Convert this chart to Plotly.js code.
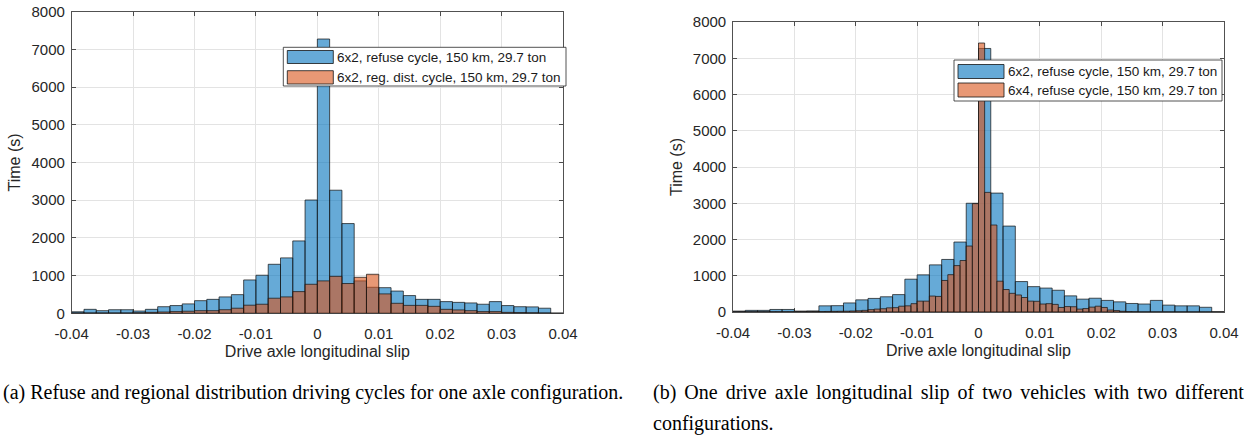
<!DOCTYPE html>
<html>
<head>
<meta charset="utf-8">
<script src="https://cdn.plot.ly/plotly-3.0.1.min.js"></script>
<style>
html,body{margin:0;padding:0;background:#fff;}
#chart{width:1250px;height:437px;}
</style>
</head>
<body>
<div id="chart"></div>
<script>
// ---------- data ----------
const binStart = -0.04;
const wideBin = 0.002;
const narrowBin = 0.001;

const xTickVals = [-0.04, -0.03, -0.02, -0.01, 0, 0.01, 0.02, 0.03, 0.04];
const xTickText = ['-0.04', '-0.03', '-0.02', '-0.01', '0', '0.01', '0.02', '0.03', '0.04'];
const yTickVals = [0, 1000, 2000, 3000, 4000, 5000, 6000, 7000, 8000];
const yTickText = ['0', '1000', '2000', '3000', '4000', '5000', '6000', '7000', '8000'];

const seriesNamesA = ['6x2, refuse cycle, 150 km, 29.7 ton', '6x2, reg. dist. cycle, 150 km, 29.7 ton'];
const seriesNamesB = ['6x2, refuse cycle, 150 km, 29.7 ton', '6x4, refuse cycle, 150 km, 29.7 ton'];

// (a) 0.002-wide bins from -0.040 to 0.038
const refuse6x2A = [40, 105, 70, 95, 95, 60, 105, 175, 205, 250,
  335, 370, 435, 495, 885, 1010, 1300, 1470, 1920, 3005,
  7275, 3265, 2380, 860, 690, 680, 590, 470, 370, 370,
  310, 290, 275, 240, 310, 205, 175, 170, 135, 0];
const regDist6x2A = [10, 10, 10, 10, 10, 15, 25, 35, 45, 55,
  70, 70, 95, 135, 215, 240, 400, 435, 575, 770,
  860, 980, 790, 955, 1035, 515, 265, 210, 210, 185,
  105, 90, 70, 45, 45, 25, 20, 15, 10, 0];

// (b) 6x2: 0.002-wide bins; 6x4: 0.001-wide bins from -0.040 to 0.039
const refuse6x2B = [25, 45, 45, 70, 70, 25, 30, 170, 175, 250,
  335, 375, 420, 480, 905, 1025, 1300, 1450, 1930, 3000,
  7270, 3280, 2370, 840, 700, 660, 600, 445, 355, 380,
  320, 280, 235, 220, 320, 190, 170, 170, 130, 0];
const refuse6x4B = [5, 5, 5, 5, 5, 5, 5, 5, 5, 5,
  8, 8, 10, 12, 12, 15, 18, 20, 22, 28,
  35, 45, 65, 80, 90, 115, 120, 160, 170, 230,
  300, 300, 440, 430, 870, 1030, 1280, 1420, 1820, 2990,
  7420, 3300, 2400, 850, 620, 515, 470, 400, 300, 295,
  220, 230, 210, 125, 150, 145, 80, 95, 135, 160,
  125, 55, 40, 20, 10, 5, 0, 0, 0, 0,
  0, 0, 0, 0, 0, 0, 0, 0, 0, 0];

const captionA = '(a) Refuse and regional distribution driving cycles for one axle configuration.';
const captionB1 = '(b) One drive axle longitudinal slip of two vehicles with two different';
const captionB2 = 'configurations.';

// ---------- helpers ----------
const centers = (vals, w) => vals.map((_, i) => binStart + (i + 0.5) * w);
const W = 1250, H = 437;
const px = x => x / W;
const py = y => 1 - y / H;

const blueFill = 'rgba(0,114,189,0.6)';
const orangeFill = 'rgba(217,83,25,0.6)';
const edge = { color: 'rgba(20,20,20,0.9)', width: 0.8 };
const txt = '#262626';
const sans = 'Liberation Sans, Arial, Helvetica, sans-serif';

function bar(vals, w, fill, name, xa, ya) {
  return {
    type: 'bar', x: centers(vals, w), y: vals, width: w, name: name,
    xaxis: xa, yaxis: ya, showlegend: false, hoverinfo: 'x+y',
    marker: { color: fill, line: edge }
  };
}

const traces = [
  bar(refuse6x2A, wideBin, blueFill, seriesNamesA[0], 'x', 'y'),
  bar(regDist6x2A, wideBin, orangeFill, seriesNamesA[1], 'x', 'y'),
  bar(refuse6x2B, wideBin, blueFill, seriesNamesB[0], 'x2', 'y2'),
  bar(refuse6x4B, narrowBin, orangeFill, seriesNamesB[1], 'x2', 'y2')
];

function xAxis(domain, anchor) {
  return {
    domain: domain, anchor: anchor, range: [-0.04, 0.04],
    tickmode: 'array', tickvals: xTickVals, ticktext: xTickText,
    ticks: 'inside', ticklen: 4, tickcolor: txt, tickwidth: 0.8,
    showline: true, linecolor: txt, linewidth: 0.8, mirror: 'ticks',
    showgrid: true, gridcolor: '#e3e3e3', gridwidth: 1, zeroline: false,
    tickfont: { family: sans, size: 15, color: txt },
    ticklabelstandoff: 7,
    title: { text: 'Drive axle longitudinal slip', font: { family: sans, size: 16, color: txt }, standoff: 4 }
  };
}
function yAxis(domain, anchor) {
  return {
    domain: domain, anchor: anchor, range: [0, 8000],
    tickmode: 'array', tickvals: yTickVals, ticktext: yTickText,
    ticks: 'inside', ticklen: 4, tickcolor: txt, tickwidth: 0.8,
    showline: true, linecolor: txt, linewidth: 0.8, mirror: 'ticks',
    showgrid: true, gridcolor: '#e3e3e3', gridwidth: 1, zeroline: false,
    tickfont: { family: sans, size: 15, color: txt },
    ticklabelstandoff: 3,
    title: { text: 'Time (s)', font: { family: sans, size: 16, color: txt }, standoff: 6 }
  };
}

// legend drawn in paper space
function legend(box, sw1, sw2, textX, ty1, ty2, names) {
  const shapes = [
    { type: 'rect', xref: 'paper', yref: 'paper', layer: 'above',
      x0: px(box[0]), x1: px(box[1]), y0: py(box[3]), y1: py(box[2]),
      fillcolor: '#ffffff', line: { color: txt, width: 0.8 } },
    { type: 'rect', xref: 'paper', yref: 'paper', layer: 'above',
      x0: px(sw1[0]), x1: px(sw1[1]), y0: py(sw1[3]), y1: py(sw1[2]),
      fillcolor: blueFill, line: { color: '#141414', width: 0.8 } },
    { type: 'rect', xref: 'paper', yref: 'paper', layer: 'above',
      x0: px(sw2[0]), x1: px(sw2[1]), y0: py(sw2[3]), y1: py(sw2[2]),
      fillcolor: orangeFill, line: { color: '#141414', width: 0.8 } }
  ];
  const anns = [
    { xref: 'paper', yref: 'paper', x: px(textX), y: py(ty1), xanchor: 'left', yanchor: 'middle',
      text: names[0], showarrow: false, font: { family: sans, size: 13.5, color: '#1a1a1a' } },
    { xref: 'paper', yref: 'paper', x: px(textX), y: py(ty2), xanchor: 'left', yanchor: 'middle',
      text: names[1], showarrow: false, font: { family: sans, size: 13.5, color: '#1a1a1a' } }
  ];
  return { shapes, anns };
}

const legA = legend([283.3, 566, 47.3, 86], [287.3, 333.3, 50.5, 63.5], [287.3, 333.3, 70.7, 84], 334.5, 57.3, 77.3, seriesNamesA);
const legB = legend([954, 1222, 60, 101], [958, 1004, 64.5, 78.5], [958, 1004, 83, 97], 1005.5, 71.3, 90.3, seriesNamesB);

const serif = 'Liberation Serif, Times New Roman, serif';
const captions = [
  { xref: 'paper', yref: 'paper', x: px(1), y: py(392), xanchor: 'left', yanchor: 'middle',
    text: captionA, showarrow: false, font: { family: serif, size: 20, color: '#000' } },
  { xref: 'paper', yref: 'paper', x: px(651), y: py(392), xanchor: 'left', yanchor: 'middle',
    text: '<span style="word-spacing:3px">' + captionB1 + '</span>', showarrow: false,
    font: { family: serif, size: 20, color: '#000' } },
  { xref: 'paper', yref: 'paper', x: px(651), y: py(423), xanchor: 'left', yanchor: 'middle',
    text: captionB2, showarrow: false, font: { family: serif, size: 20, color: '#000' } }
];

const layout = {
  width: W, height: H,
  margin: { l: 0, r: 0, t: 0, b: 0, pad: 0 },
  paper_bgcolor: '#ffffff', plot_bgcolor: '#ffffff',
  barmode: 'overlay', bargap: 0,
  showlegend: false,
  xaxis: xAxis([px(71.7), px(563)], 'y'),
  yaxis: yAxis([py(313.3), py(11.7)], 'x'),
  xaxis2: xAxis([px(733), px(1224)], 'y2'),
  yaxis2: yAxis([py(312), py(22)], 'x2'),
  shapes: legA.shapes.concat(legB.shapes),
  annotations: legA.anns.concat(legB.anns).concat(captions)
};

Plotly.newPlot('chart', traces, layout, { displayModeBar: false, staticPlot: true });
</script>
</body>
</html>
